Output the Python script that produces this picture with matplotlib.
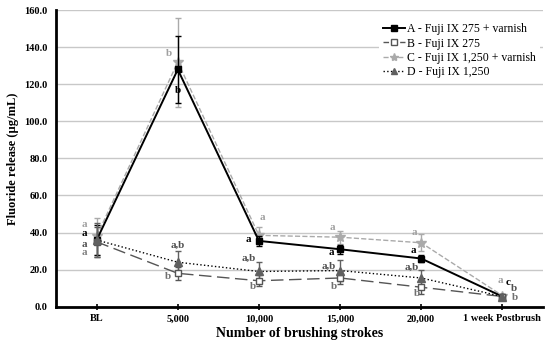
import matplotlib.pyplot as plt
from matplotlib.lines import Line2D

plt.rcParams['font.family'] = ['Liberation Serif', 'DejaVu Serif']

categories = ['BL', '5,000', '10,000', '15,000', '20,000', '1 week Postbrush']
a_vals = [36.0, 128.0, 35.5, 31.0, 26.0, 5.5]
b_vals = [35.0, 18.0, 14.0, 15.5, 10.5, 5.5]
c_vals = [38.0, 132.0, 38.5, 37.5, 34.5, 6.0]
d_vals = [36.0, 24.0, 19.0, 19.5, 15.5, 5.5]
a_err = [8.0, 18.0, 2.5, 2.5, 2.0, 1.0]
b_err = [8.0, 3.5, 3.0, 3.5, 3.5, 1.0]
c_err = [10.0, 24.0, 4.5, 3.5, 4.5, 1.0]
d_err = [9.0, 6.0, 5.0, 5.5, 4.5, 1.0]

# letters: (offset from point, y value, text, colour)
letters = [
    (-0.15, 44.5, 'a', '#a0a0a0'), (-0.15, 39.5, 'a', 'black'),
    (-0.15, 33.5, 'a', '#505050'), (-0.15, 29.0, 'a', '#808080'),
    (-0.11, 136.5, 'b', '#a0a0a0'), (0.0, 116.5, 'b', 'black'),
    (0.0, 33.0, 'a,b', '#505050'), (-0.12, 16.5, 'b', '#707070'),
    (0.04, 48.0, 'a', '#a0a0a0'), (-0.13, 36.0, 'a', 'black'),
    (-0.13, 26.0, 'a,b', '#505050'), (-0.07, 11.0, 'b', '#707070'),
    (-0.09, 43.0, 'a', '#a0a0a0'), (-0.11, 29.0, 'a', 'black'),
    (-0.14, 22.0, 'a,b', '#505050'), (-0.07, 10.8, 'b', '#707070'),
    (-0.08, 40.0, 'a', '#a0a0a0'), (-0.10, 30.5, 'a', 'black'),
    (-0.11, 21.5, 'a,b', '#505050'), (-0.05, 7.0, 'b', '#707070'),
    (-0.02, 14.4, 'a', '#a0a0a0'), (0.07, 13.0, 'c', 'black'),
    (0.14, 10.0, 'b', '#505050'), (0.15, 4.7, 'b', '#707070'),
]
letter_base = [0, 0, 0, 0, 1, 1, 1, 1, 2, 2, 2, 2, 3, 3, 3, 3, 4, 4, 4, 4, 5, 5, 5, 5]

x = list(range(len(categories)))

fig = plt.figure(figsize=(5.5, 3.46), dpi=100)
ax = fig.add_axes([0.102, 0.1136, 0.885, 0.857])

ax.errorbar(x, c_vals, yerr=c_err, color='#aaaaaa', ls='--', lw=1.0, marker='*', ms=7,
            mec='#aaaaaa', mfc='#aaaaaa', capsize=2, elinewidth=1, zorder=3)
ax.errorbar(x, a_vals, yerr=a_err, color='black', ls='-', lw=1.4, marker='s', ms=5,
            mec='black', mfc='black', capsize=2, elinewidth=1, zorder=4)
ax.errorbar(x, b_vals, yerr=b_err, color='#555555', ls=(0, (9, 4)), lw=1.0, marker='s', ms=5,
            mec='#555555', mfc='white', capsize=2, elinewidth=1, zorder=5)
ax.errorbar(x, d_vals, yerr=d_err, color='black', ls=':', lw=1.0, marker='^', ms=5.5,
            mec='#606060', mfc='#606060', ecolor='#606060', capsize=2, elinewidth=1, zorder=5)

for (dx, yv, txt, col), base in zip(letters, letter_base):
    ax.text(base + dx, yv, txt, color=col, fontsize=8, fontweight='bold',
            ha='center', va='center', zorder=6)

ax.set_xlim(-0.5, 5.5)
ax.set_ylim(0, 160)
ax.set_yticks(range(0, 161, 20))
ax.set_yticklabels(['%.1f' % v for v in range(0, 161, 20)], fontsize=7.5, fontweight='bold')
ax.set_xticks(x)
ax.set_xticklabels(categories, fontsize=7.5, fontweight='bold')
ax.tick_params(axis='x', direction='inout', length=5, width=1.2, pad=3)
ax.tick_params(axis='y', length=0, pad=6)
ax.yaxis.grid(True, color='#c8c8c8', lw=1)
ax.set_axisbelow(True)
for s in ['top', 'right']:
    ax.spines[s].set_visible(False)
ax.spines['left'].set_linewidth(2)
ax.spines['bottom'].set_linewidth(2)

ax.set_xlabel('Number of brushing strokes', fontsize=10, fontweight='bold', labelpad=3)
ax.set_ylabel('Fluoride release (\u00b5g/mL)', fontsize=9, fontweight='bold', labelpad=4)

handles = [
    Line2D([], [], color='black', ls='-', lw=1.4, marker='s', ms=4, mfc='black', mec='black'),
    Line2D([], [], color='#555555', ls=(0, (4, 2)), lw=1.0, marker='s', ms=4, mfc='white', mec='#555555'),
    Line2D([], [], color='#aaaaaa', ls='--', lw=1.0, marker='*', ms=6, mfc='#aaaaaa', mec='#aaaaaa'),
    Line2D([], [], color='black', ls=':', lw=1.0, marker='^', ms=4, mfc='#606060', mec='#606060'),
]
labels = ['A - Fuji IX 275 + varnish', 'B - Fuji IX 275',
          'C - Fuji IX 1,250 + varnish', 'D - Fuji IX 1,250']
leg = ax.legend(handles, labels, loc='upper right', bbox_to_anchor=(1.0, 0.98),
                frameon=True, fontsize=8.5, handlelength=1.8, handletextpad=0.2,
                labelspacing=0.2, borderaxespad=0.2)
leg.get_frame().set_edgecolor('none')
leg.get_frame().set_facecolor('white')
leg.get_frame().set_alpha(1)

plt.savefig('out.png', dpi=100)
